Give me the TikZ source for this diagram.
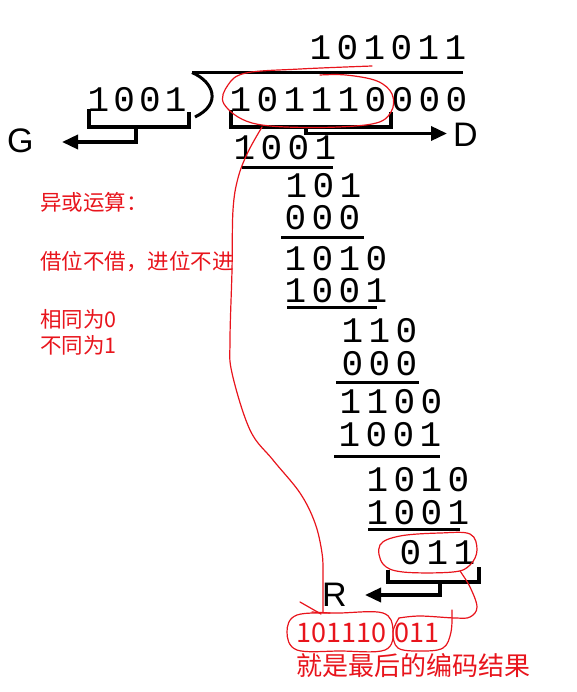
\documentclass[tikz,border=0pt]{standalone}
\usepackage{fontspec}
\setmainfont{Liberation Sans}
\newfontfamily\digitfont[LetterSpace=15]{Liberation Mono}
\newfontfamily\digitfontnarrow[LetterSpace=11.5]{Liberation Mono}
\newfontfamily\cjk{Noto Sans CJK SC}
\usetikzlibrary{arrows.meta}
\definecolor{annot}{RGB}{232,20,28}
\begin{document}
\begin{tikzpicture}[x=1pt,y=-1pt,
  bits/.style={font=\digitfont\fontsize{36}{36}\selectfont, anchor=base west, inner sep=0pt},
  letter/.style={font=\fontsize{34}{34}\selectfont, anchor=base west, inner sep=0pt},
  note/.style={font=\cjk\fontsize{21.5}{21.5}\selectfont, text=annot, anchor=west, inner sep=0pt},
  rednum/.style={font=\cjk\fontsize{27}{27}\selectfont, text=annot, anchor=west, inner sep=0pt},
  rule/.style={line width=3pt},
  bracket/.style={line width=3.5pt, line join=miter},
  arr/.style={bracket, -{Triangle[length=16pt,width=14pt]}},
  freehand/.style={annot, line width=1.2pt, line cap=round, line join=round}]
\useasboundingbox (0,0) rectangle (577,692);
% digits
\node[bits] (quot) at (309.5,60) {101011};
\node[bits] (dividend) at (229.5,112) {101110000};
\node[bits, font=\digitfontnarrow\fontsize{36}{36}\selectfont] (divisor) at (87.5,112) {1001};
\node[bits] (s1) at (233.5,160) {1001};
\node[bits] (r1) at (285.5,198) {101};
\node[bits] (s2) at (284.5,230) {000};
\node[bits] (r2) at (284.5,270) {1010};
\node[bits] (s3) at (284.5,302) {1001};
\node[bits] (r3) at (341.5,342) {110};
\node[bits] (s4) at (341.5,375) {000};
\node[bits] (r4) at (339.5,413) {1100};
\node[bits] (s5) at (338.5,446) {1001};
\node[bits] (r5) at (366.5,491) {1010};
\node[bits] (s6) at (366.5,524) {1001};
\node[bits] (rem) at (399.5,564) {011};
% letters
\node[letter] (G) at (7,153) {G};
\node[letter] (D) at (453,147) {D};
\node[letter] (R) at (322,606) {R};
% rules
\draw[rule] (192,72.5) -- (463,72.5);
\draw[rule] (242,168) -- (333,168);
\draw[rule] (281,238) -- (364,238);
\draw[rule] (287,307.5) -- (377,307.5);
\draw[rule] (336,382) -- (419,382);
\draw[rule] (334,456) -- (440,456);
\draw[rule] (368,529) -- (460,529);
\draw[line width=3pt] (192,72.5) .. controls (214,82) and (222,104) .. (195,117);
% brackets
\coordinate (gstem) at (136,127);
\coordinate (dstem) at (306,127);
\coordinate (rstem) at (440,582);
\draw[bracket] (89,109) -- (89,127) -- (189,127) -- (189,112);
\draw[arr] (gstem) -- (136,142) -- (62,142);
\draw[bracket] (231,110) -- (231,127) -- (391,127) -- (391,112);
\draw[arr] (dstem) -- (306,133.5) -- (447,133.5);
\draw[bracket] (388,570) -- (388,582) -- (479,582) -- (479,567);
\draw[arr] (rstem) -- (440,595) -- (365,595);
% red notes
\node[note] (n1) at (40,202.5) {异或运算：};
\node[note] (n2) at (40,261.5) {借位不借，进位不进};
\node[note] (n3) at (40,319) {相同为0};
\node[note] (n4) at (40,345) {不同为1};
\node[rednum] (c1) at (296,633) {101110};
\node[rednum] (c2) at (394,633) {011};
\node[font=\cjk\fontsize{26}{26}\selectfont, text=annot, anchor=west, inner sep=0pt] (res) at (296,666) {就是最后的编码结果};
% freehand red
\draw[freehand] plot[smooth, tension=0.6] coordinates {(320,75) (346,75) (377,81) (392,94) (391,112) (372,124) (310,127.5) (252,123) (224,104) (228,85) (246,73) (300,69) (372,66)};
\draw[freehand] plot[smooth, tension=0.6] coordinates {(262,127) (248,152) (238,178) (233,210) (232,270) (230,340) (232,373) (250,430) (273,460) (300,493) (315,523) (322,553) (323,575) (323,612)};
\draw[freehand] (300,602) -- (321,614);
\draw[freehand] (312,612) -- (330,613);
\draw[freehand] plot[smooth cycle, tension=0.6] coordinates {(400,536) (440,533) (470,534) (477,550) (470,565) (453,572) (403,572) (383,564) (380,545)};
\draw[freehand] plot[smooth, tension=0.6] coordinates {(460,571) (470,587) (477,607) (470,617) (455,618) (420,616) (399,618)};
\draw[freehand] plot[smooth, tension=0.6] coordinates {(399,618) (393,632) (398,648) (420,651) (443,648) (451,632) (452,610)};
\draw[freehand] plot[smooth cycle, tension=0.6] coordinates {(297,615) (340,613) (383,613) (393,630) (385,650) (340,651) (297,650) (287,632)};
\end{tikzpicture}
\end{document}
